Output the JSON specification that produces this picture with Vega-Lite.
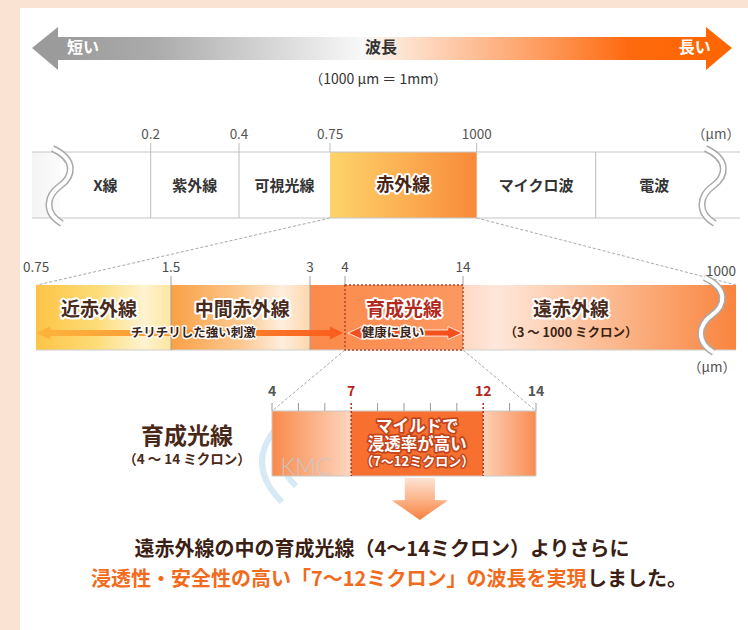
{
"$schema": "https://vega.github.io/schema/vega-lite/v6.json",
"width": 728, "height": 622,
"padding": {"left": 20, "top": 8, "right": 0, "bottom": 0},
"autosize": {"type": "none"},
"background": "#fbe3d3",
"config": {"view": {"fill": "#ffffff", "stroke": null}, "text": {"font": "Noto Sans CJK JP"}},
"encoding": {"y": {"field": "lv", "type": "quantitative", "axis": null, "scale": {"domain": [0,1,2,3,4,5,6,7,8,9,10,11,12,13,14,15,16,17,18,19,20,21,22,23,24,25,26,27,28,29,30,31], "range": [19,29,40,52,62,72,127,135,144,178,210,260,268,277,302,325,342,360,384,395,403,419,429,437,452,454,468,470,492,512,542,572], "nice": false, "zero": false}}},
"resolve": {"scale": {"x": "independent"}},
"layer": [
{"data": {"values": [{"a":0.4258,"a2":0.0234,"lv":10,"lv2":13},{"a":0.6273,"a2":0.9835,"lv":10,"lv2":13},{"a":0.4464,"a2":0.3462,"lv":16,"lv2":20},{"a":0.6085,"a2":0.7088,"lv":16,"lv2":20}]},
 "mark": {"type": "rule", "color": "#a8a8a8", "strokeWidth": 1, "strokeDash": [3,2]},
 "encoding": {"x": {"field":"a","type":"quantitative","axis":null,"scale":{"domain":[0,1],"nice":false,"zero":false}}, "x2": {"field":"a2"}, "y2": {"field":"lv2"}}},

{"data": {"values": [{"s":-0.31,"s2":0,"lv":8,"lv2":10}]},
 "mark": {"type": "rect", "fill": {"gradient":"linear","x1":0,"y1":0,"x2":1,"y2":0,"stops":[{"offset":0,"color":"#f4f4f4"},{"offset":1,"color":"#fbfbfb"}]}},
 "encoding": {"x": {"field":"s","type":"quantitative","axis":null,"scale":{"domain":[0,1,2,3,4,5,6],"range":[40,130.7,219,310,456.7,575.7,693],"nice":false,"zero":false}}, "x2": {"field":"s2"}, "y2": {"field":"lv2"}}},
{"data": {"values": [{"s":3,"s2":4,"lv":8,"lv2":10}]},
 "mark": {"type": "rect", "fill": {"gradient":"linear","x1":0,"y1":0,"x2":1,"y2":0,"stops":[{"offset":0,"color":"#fdd46a"},{"offset":0.5,"color":"#fbb052"},{"offset":1,"color":"#f8893a"}]}},
 "encoding": {"x": {"field":"s","type":"quantitative","axis":null,"scale":{"domain":[0,1,2,3,4,5,6],"range":[40,130.7,219,310,456.7,575.7,693],"nice":false,"zero":false}}, "x2": {"field":"s2"}, "y2": {"field":"lv2"}}},
{"data": {"values": [{"s":-0.31,"s2":6.23,"lv":8},{"s":-0.31,"s2":6.23,"lv":10}]},
 "mark": {"type": "rule", "color": "#c6c6c6", "strokeWidth": 1},
 "encoding": {"x": {"field":"s","type":"quantitative","axis":null,"scale":{"domain":[0,1,2,3,4,5,6],"range":[40,130.7,219,310,456.7,575.7,693],"nice":false,"zero":false}}, "x2": {"field":"s2"}}},
{"data": {"values": [{"s":1,"lv":7,"lv2":10},{"s":2,"lv":7,"lv2":10},{"s":3,"lv":7,"lv2":8},{"s":4,"lv":7,"lv2":8},{"s":5,"lv":8,"lv2":10}]},
 "mark": {"type": "rule", "color": "#bdbdbd", "strokeWidth": 1},
 "encoding": {"x": {"field":"s","type":"quantitative","axis":null,"scale":{"domain":[0,1,2,3,4,5,6],"range":[40,130.7,219,310,456.7,575.7,693],"nice":false,"zero":false}}, "y2": {"field":"lv2"}}},
{"data": {"values": [{"s":0,"lv":9},{"s":6,"lv":9}]},
 "mark": {"type": "point", "shape": "M-0.2,-1C0.45,-0.7,0.35,-0.25,0,0C-0.35,0.25,-0.45,0.7,0.05,1", "size": 5625, "filled": false, "color": "#a9a9a9", "stroke": "#a9a9a9", "strokeWidth": 7, "opacity": 1},
 "encoding": {"x": {"field":"s","type":"quantitative","axis":null,"scale":{"domain":[0,1,2,3,4,5,6],"range":[40,130.7,219,310,456.7,575.7,693],"nice":false,"zero":false}}}},
{"data": {"values": [{"s":0,"lv":9},{"s":6,"lv":9}]},
 "mark": {"type": "point", "shape": "M-0.2,-1C0.45,-0.7,0.35,-0.25,0,0C-0.35,0.25,-0.45,0.7,0.05,1", "size": 5625, "filled": false, "color": "#ffffff", "stroke": "#ffffff", "strokeWidth": 4, "opacity": 1},
 "encoding": {"x": {"field":"s","type":"quantitative","axis":null,"scale":{"domain":[0,1,2,3,4,5,6],"range":[40,130.7,219,310,456.7,575.7,693],"nice":false,"zero":false}}}},
{"data": {"values": [{"s":1,"t":"0.2","lv":6},{"s":2,"t":"0.4","lv":6},{"s":3,"t":"0.75","lv":6},{"s":4,"t":"1000","lv":6}]},
 "mark": {"type": "text", "fontSize": 13.5, "color": "#555555"},
 "encoding": {"x": {"field":"s","type":"quantitative","axis":null,"scale":{"domain":[0,1,2,3,4,5,6],"range":[40,130.7,219,310,456.7,575.7,693],"nice":false,"zero":false}}, "text": {"field":"t"}}},
{"data": {"values": [{"s":6.23,"t":"（μm）","lv":6}]},
 "mark": {"type": "text", "fontSize": 13.5, "color": "#555555", "align": "right"},
 "encoding": {"x": {"field":"s","type":"quantitative","axis":null,"scale":{"domain":[0,1,2,3,4,5,6],"range":[40,130.7,219,310,456.7,575.7,693],"nice":false,"zero":false}}, "text": {"field":"t"}}},
{"data": {"values": [{"s":0.5,"t":"X線","lv":9},{"s":1.5,"t":"紫外線","lv":9},{"s":2.5,"t":"可視光線","lv":9},{"s":4.5,"t":"マイクロ波","lv":9},{"s":5.5,"t":"電波","lv":9}]},
 "mark": {"type": "text", "fontSize": 15, "fontWeight": "bold", "color": "#333333"},
 "encoding": {"x": {"field":"s","type":"quantitative","axis":null,"scale":{"domain":[0,1,2,3,4,5,6],"range":[40,130.7,219,310,456.7,575.7,693],"nice":false,"zero":false}}, "text": {"field":"t"}}},
{"data": {"values": [{"s":3.5,"t":"赤外線","lv":9}]},
 "mark": {"type": "text", "fontSize": 18, "fontWeight": "bold", "color": "#ffffff", "stroke": "#ffffff", "strokeWidth": 4, "strokeJoin": "round"},
 "encoding": {"x": {"field":"s","type":"quantitative","axis":null,"scale":{"domain":[0,1,2,3,4,5,6],"range":[40,130.7,219,310,456.7,575.7,693],"nice":false,"zero":false}}, "text": {"field":"t"}}},
{"data": {"values": [{"s":3.5,"t":"赤外線","lv":9}]},
 "mark": {"type": "text", "fontSize": 18, "fontWeight": "bold", "color": "#4a2412"},
 "encoding": {"x": {"field":"s","type":"quantitative","axis":null,"scale":{"domain":[0,1,2,3,4,5,6],"range":[40,130.7,219,310,456.7,575.7,693],"nice":false,"zero":false}}, "text": {"field":"t"}}},

{"data": {"values": [{"w":0.75,"w2":1.5,"lv":13,"lv2":16}]},
 "mark": {"type": "rect", "fill": {"gradient":"linear","x1":0,"y1":0,"x2":1,"y2":0,"stops":[{"offset":0,"color":"#fcc445"},{"offset":0.45,"color":"#fddc78"},{"offset":0.8,"color":"#fef3d0"},{"offset":1,"color":"#fde6a0"}]}},
 "encoding": {"x": {"field":"w","type":"quantitative","axis":null,"scale":{"domain":[0.75,1.5,3,4,14,1000],"range":[16,151,290,325,443,716],"nice":false,"zero":false}}, "x2": {"field":"w2"}, "y2": {"field":"lv2"}}},
{"data": {"values": [{"w":1.5,"w2":3,"lv":13,"lv2":16}]},
 "mark": {"type": "rect", "fill": {"gradient":"linear","x1":0,"y1":0,"x2":1,"y2":0,"stops":[{"offset":0,"color":"#f9a045"},{"offset":0.5,"color":"#fcc890"},{"offset":0.8,"color":"#feeedd"},{"offset":1,"color":"#fdd7ad"}]}},
 "encoding": {"x": {"field":"w","type":"quantitative","axis":null,"scale":{"domain":[0.75,1.5,3,4,14,1000],"range":[16,151,290,325,443,716],"nice":false,"zero":false}}, "x2": {"field":"w2"}, "y2": {"field":"lv2"}}},
{"data": {"values": [{"w":3,"w2":14,"lv":13,"lv2":16}]},
 "mark": {"type": "rect", "fill": {"gradient":"linear","x1":0,"y1":0,"x2":1,"y2":0,"stops":[{"offset":0,"color":"#fb8a4a"},{"offset":1,"color":"#fb9862"}]}},
 "encoding": {"x": {"field":"w","type":"quantitative","axis":null,"scale":{"domain":[0.75,1.5,3,4,14,1000],"range":[16,151,290,325,443,716],"nice":false,"zero":false}}, "x2": {"field":"w2"}, "y2": {"field":"lv2"}}},
{"data": {"values": [{"w":14,"w2":1000,"lv":13,"lv2":16}]},
 "mark": {"type": "rect", "fill": {"gradient":"linear","x1":0,"y1":0,"x2":1,"y2":0,"stops":[{"offset":0,"color":"#fdd8c4"},{"offset":0.12,"color":"#fee7da"},{"offset":0.55,"color":"#fbb88e"},{"offset":1,"color":"#f9843e"}]}},
 "encoding": {"x": {"field":"w","type":"quantitative","axis":null,"scale":{"domain":[0.75,1.5,3,4,14,1000],"range":[16,151,290,325,443,716],"nice":false,"zero":false}}, "x2": {"field":"w2"}, "y2": {"field":"lv2"}}},
{"data": {"values": [{"w":0.75,"w2":1000,"lv":16}]},
 "mark": {"type": "rule", "color": "#cfcfcf", "strokeWidth": 1},
 "encoding": {"x": {"field":"w","type":"quantitative","axis":null,"scale":{"domain":[0.75,1.5,3,4,14,1000],"range":[16,151,290,325,443,716],"nice":false,"zero":false}}, "x2": {"field":"w2"}}},
{"data": {"values": [{"w":1.5,"lv":12,"lv2":16},{"w":3,"lv":12,"lv2":16},{"w":4,"lv":12,"lv2":13},{"w":14,"lv":12,"lv2":13}]},
 "mark": {"type": "rule", "color": "#a0a0a0", "strokeWidth": 1},
 "encoding": {"x": {"field":"w","type":"quantitative","axis":null,"scale":{"domain":[0.75,1.5,3,4,14,1000],"range":[16,151,290,325,443,716],"nice":false,"zero":false}}, "y2": {"field":"lv2"}}},
{"data": {"values": [{"w":4,"w2":14,"lv":13,"lv2":16}]},
 "mark": {"type": "rect", "fill": "transparent", "stroke": "#b4462a", "strokeWidth": 1.5, "strokeDash": [2,2]},
 "encoding": {"x": {"field":"w","type":"quantitative","axis":null,"scale":{"domain":[0.75,1.5,3,4,14,1000],"range":[16,151,290,325,443,716],"nice":false,"zero":false}}, "x2": {"field":"w2"}, "y2": {"field":"lv2"}}},
{"data": {"values": [{"w":913,"lv":14.22}]},
 "mark": {"type": "point", "shape": "M-0.2,-1C0.45,-0.7,0.35,-0.25,0,0C-0.35,0.25,-0.45,0.7,0.05,1", "size": 5625, "filled": false, "color": "#a9a9a9", "stroke": "#a9a9a9", "strokeWidth": 7, "opacity": 1},
 "encoding": {"x": {"field":"w","type":"quantitative","axis":null,"scale":{"domain":[0.75,1.5,3,4,14,1000],"range":[16,151,290,325,443,716],"nice":false,"zero":false}}}},
{"data": {"values": [{"w":913,"lv":14.22}]},
 "mark": {"type": "point", "shape": "M-0.2,-1C0.45,-0.7,0.35,-0.25,0,0C-0.35,0.25,-0.45,0.7,0.05,1", "size": 5625, "filled": false, "color": "#ffffff", "stroke": "#ffffff", "strokeWidth": 4, "opacity": 1},
 "encoding": {"x": {"field":"w","type":"quantitative","axis":null,"scale":{"domain":[0.75,1.5,3,4,14,1000],"range":[16,151,290,325,443,716],"nice":false,"zero":false}}}},
{"data": {"values": [{"w":0.75,"lv":15,"lv2":15},{"w":0.828,"lv":14.72,"lv2":15.38},{"w":0.832,"lv":14.87,"lv2":15.18},{"w":3.565,"lv":14.87,"lv2":15.18},{"w":3.571,"lv":14.72,"lv2":15.38},{"w":3.943,"lv":15,"lv2":15}]},
 "mark": {"type": "area", "orient": "vertical", "fill": {"gradient":"linear","x1":0,"y1":0,"x2":1,"y2":0,"stops":[{"offset":0,"color":"#fdb43c"},{"offset":0.5,"color":"#fb9434"},{"offset":1,"color":"#fa5a1c"}]}},
 "encoding": {"x": {"field":"w","type":"quantitative","axis":null,"scale":{"domain":[0.75,1.5,3,4,14,1000],"range":[16,151,290,325,443,716],"nice":false,"zero":false}}, "y2": {"field":"lv2"}}},
{"data": {"values": [{"w":4.25,"lv":15,"lv2":15},{"w":5.44,"lv":14.72,"lv2":15.38},{"w":5.47,"lv":14.87,"lv2":15.18},{"w":12.70,"lv":14.87,"lv2":15.18},{"w":12.73,"lv":14.72,"lv2":15.38},{"w":13.92,"lv":15,"lv2":15}]},
 "mark": {"type": "area", "orient": "vertical", "color": "#f4501e", "stroke": "#ffffff", "strokeWidth": 0.8},
 "encoding": {"x": {"field":"w","type":"quantitative","axis":null,"scale":{"domain":[0.75,1.5,3,4,14,1000],"range":[16,151,290,325,443,716],"nice":false,"zero":false}}, "y2": {"field":"lv2"}}},
{"data": {"values": [{"w":0.75,"t":"0.75","lv":11},{"w":1.5,"t":"1.5","lv":11},{"w":3,"t":"3","lv":11},{"w":4,"t":"4","lv":11},{"w":14,"t":"14","lv":11}]},
 "mark": {"type": "text", "fontSize": 13.5, "color": "#4d4d4d"},
 "encoding": {"x": {"field":"w","type":"quantitative","axis":null,"scale":{"domain":[0.75,1.5,3,4,14,1000],"range":[16,151,290,325,443,716],"nice":false,"zero":false}}, "text": {"field":"t"}}},
{"data": {"values": [{"w":1000,"t":"1000","lv":11.5},{"w":1000,"t":"（μm）","lv":17}]},
 "mark": {"type": "text", "fontSize": 13.5, "color": "#4d4d4d", "align": "right"},
 "encoding": {"x": {"field":"w","type":"quantitative","axis":null,"scale":{"domain":[0.75,1.5,3,4,14,1000],"range":[16,151,290,325,443,716],"nice":false,"zero":false}}, "text": {"field":"t"}}},
{"data": {"values": [{"w":1.1,"t":"近赤外線","lv":14},{"w":2.27,"t":"中間赤外線","lv":14},{"w":404,"t":"遠赤外線","lv":14},{"w":9,"t":"育成光線","lv":14}]},
 "mark": {"type": "text", "fontSize": 19, "fontWeight": "bold", "color": "#ffffff", "stroke": "#ffffff", "strokeWidth": 4, "strokeJoin": "round"},
 "encoding": {"x": {"field":"w","type":"quantitative","axis":null,"scale":{"domain":[0.75,1.5,3,4,14,1000],"range":[16,151,290,325,443,716],"nice":false,"zero":false}}, "text": {"field":"t"}}},
{"data": {"values": [{"w":1.1,"t":"近赤外線","lv":14},{"w":2.27,"t":"中間赤外線","lv":14},{"w":404,"t":"遠赤外線","lv":14}]},
 "mark": {"type": "text", "fontSize": 19, "fontWeight": "bold", "color": "#4a2a1a"},
 "encoding": {"x": {"field":"w","type":"quantitative","axis":null,"scale":{"domain":[0.75,1.5,3,4,14,1000],"range":[16,151,290,325,443,716],"nice":false,"zero":false}}, "text": {"field":"t"}}},
{"data": {"values": [{"w":9,"t":"育成光線","lv":14}]},
 "mark": {"type": "text", "fontSize": 19, "fontWeight": "bold", "color": "#b32a1c"},
 "encoding": {"x": {"field":"w","type":"quantitative","axis":null,"scale":{"domain":[0.75,1.5,3,4,14,1000],"range":[16,151,290,325,443,716],"nice":false,"zero":false}}, "text": {"field":"t"}}},
{"data": {"values": [{"w":1.74,"t":"チリチリした強い刺激","lv":15},{"w":8.07,"t":"健康に良い","lv":15}]},
 "mark": {"type": "text", "fontSize": 12.5, "fontWeight": "bold", "color": "#ffffff", "stroke": "#ffffff", "strokeWidth": 3, "strokeJoin": "round"},
 "encoding": {"x": {"field":"w","type":"quantitative","axis":null,"scale":{"domain":[0.75,1.5,3,4,14,1000],"range":[16,151,290,325,443,716],"nice":false,"zero":false}}, "text": {"field":"t"}}},
{"data": {"values": [{"w":1.74,"t":"チリチリした強い刺激","lv":15},{"w":8.07,"t":"健康に良い","lv":15},{"w":404,"t":"（3 ～ 1000 ミクロン）","lv":15}]},
 "mark": {"type": "text", "fontSize": 12.5, "fontWeight": "bold", "color": "#3a2214"},
 "encoding": {"x": {"field":"w","type":"quantitative","axis":null,"scale":{"domain":[0.75,1.5,3,4,14,1000],"range":[16,151,290,325,443,716],"nice":false,"zero":false}}, "text": {"field":"t"}}},

{"data": {"values": [{"d":4.68,"lv":25}]},
 "mark": {"type": "point", "shape": "M-0.2,-1Q-1.2,0,-0.2,1M0.15,-0.6Q-0.5,0,0.15,0.6", "size": 6400, "filled": false, "color": "#d2e8f4", "stroke": "#d2e8f4", "strokeWidth": 6, "opacity": 0.9},
 "encoding": {"x": {"field":"d","type":"quantitative","axis":null,"scale":{"domain":[4,14],"range":[252,516],"nice":false,"zero":false}}}},
{"data": {"values": [{"d":4,"d2":7,"lv":20,"lv2":26}]},
 "mark": {"type": "rect", "fill": {"gradient":"linear","x1":0,"y1":0,"x2":1,"y2":0,"stops":[{"offset":0,"color":"#f98a4b"},{"offset":1,"color":"#fdd6bf"}]}},
 "encoding": {"x": {"field":"d","type":"quantitative","axis":null,"scale":{"domain":[4,14],"range":[252,516],"nice":false,"zero":false}}, "x2": {"field":"d2"}, "y2": {"field":"lv2"}}},
{"data": {"values": [{"d":7,"d2":12,"lv":20,"lv2":26}]},
 "mark": {"type": "rect", "color": "#f7702f"},
 "encoding": {"x": {"field":"d","type":"quantitative","axis":null,"scale":{"domain":[4,14],"range":[252,516],"nice":false,"zero":false}}, "x2": {"field":"d2"}, "y2": {"field":"lv2"}}},
{"data": {"values": [{"d":12,"d2":14,"lv":20,"lv2":26}]},
 "mark": {"type": "rect", "fill": {"gradient":"linear","x1":0,"y1":0,"x2":1,"y2":0,"stops":[{"offset":0,"color":"#fcd0b6"},{"offset":1,"color":"#f98c52"}]}},
 "encoding": {"x": {"field":"d","type":"quantitative","axis":null,"scale":{"domain":[4,14],"range":[252,516],"nice":false,"zero":false}}, "x2": {"field":"d2"}, "y2": {"field":"lv2"}}},
{"data": {"values": [{"d":4,"d2":14,"lv":20,"lv2":26}]},
 "mark": {"type": "rect", "fill": "transparent", "stroke": "#c8c8c8", "strokeWidth": 1},
 "encoding": {"x": {"field":"d","type":"quantitative","axis":null,"scale":{"domain":[4,14],"range":[252,516],"nice":false,"zero":false}}, "x2": {"field":"d2"}, "y2": {"field":"lv2"}}},
{"data": {"values": [{"d":4,"lv":19,"lv2":20},{"d":5,"lv":19,"lv2":20},{"d":6,"lv":19,"lv2":20},{"d":8,"lv":19,"lv2":20},{"d":9,"lv":19,"lv2":20},{"d":10,"lv":19,"lv2":20},{"d":11,"lv":19,"lv2":20},{"d":13,"lv":19,"lv2":20},{"d":14,"lv":19,"lv2":20}]},
 "mark": {"type": "rule", "color": "#9a9a9a", "strokeWidth": 1},
 "encoding": {"x": {"field":"d","type":"quantitative","axis":null,"scale":{"domain":[4,14],"range":[252,516],"nice":false,"zero":false}}, "y2": {"field":"lv2"}}},
{"data": {"values": [{"d":7,"lv":19,"lv2":26},{"d":12,"lv":19,"lv2":26}]},
 "mark": {"type": "rule", "color": "#b5301c", "strokeWidth": 1.5, "strokeDash": [2,2]},
 "encoding": {"x": {"field":"d","type":"quantitative","axis":null,"scale":{"domain":[4,14],"range":[252,516],"nice":false,"zero":false}}, "y2": {"field":"lv2"}}},
{"data": {"values": [{"d":4,"t":"4","lv":18},{"d":14,"t":"14","lv":18}]},
 "mark": {"type": "text", "fontSize": 14, "fontWeight": "bold", "color": "#555555"},
 "encoding": {"x": {"field":"d","type":"quantitative","axis":null,"scale":{"domain":[4,14],"range":[252,516],"nice":false,"zero":false}}, "text": {"field":"t"}}},
{"data": {"values": [{"d":7,"t":"7","lv":18},{"d":12,"t":"12","lv":18}]},
 "mark": {"type": "text", "fontSize": 14, "fontWeight": "bold", "color": "#b0281a"},
 "encoding": {"x": {"field":"d","type":"quantitative","axis":null,"scale":{"domain":[4,14],"range":[252,516],"nice":false,"zero":false}}, "text": {"field":"t"}}},
{"data": {"values": [{"d":9.5,"t":"マイルドで","lv":21},{"d":9.5,"t":"浸透率が高い","lv":23}]},
 "mark": {"type": "text", "fontSize": 16.5, "fontWeight": "bold", "color": "#c3441c", "stroke": "#c3441c", "strokeWidth": 3.5, "strokeJoin": "round"},
 "encoding": {"x": {"field":"d","type":"quantitative","axis":null,"scale":{"domain":[4,14],"range":[252,516],"nice":false,"zero":false}}, "text": {"field":"t"}}},
{"data": {"values": [{"d":9.5,"t":"マイルドで","lv":21},{"d":9.5,"t":"浸透率が高い","lv":23}]},
 "mark": {"type": "text", "fontSize": 16.5, "fontWeight": "bold", "color": "#ffffff"},
 "encoding": {"x": {"field":"d","type":"quantitative","axis":null,"scale":{"domain":[4,14],"range":[252,516],"nice":false,"zero":false}}, "text": {"field":"t"}}},
{"data": {"values": [{"d":9.5,"t":"（7～12ミクロン）","lv":25}]},
 "mark": {"type": "text", "fontSize": 13, "fontWeight": "bold", "color": "#c3441c", "stroke": "#c3441c", "strokeWidth": 3, "strokeJoin": "round"},
 "encoding": {"x": {"field":"d","type":"quantitative","axis":null,"scale":{"domain":[4,14],"range":[252,516],"nice":false,"zero":false}}, "text": {"field":"t"}}},
{"data": {"values": [{"d":9.5,"t":"（7～12ミクロン）","lv":25}]},
 "mark": {"type": "text", "fontSize": 13, "fontWeight": "bold", "color": "#ffffff"},
 "encoding": {"x": {"field":"d","type":"quantitative","axis":null,"scale":{"domain":[4,14],"range":[252,516],"nice":false,"zero":false}}, "text": {"field":"t"}}},
{"data": {"values": [{"d":5.29,"t":"KMC","lv":25.45}]},
 "mark": {"type": "text", "fontSize": 23, "fontWeight": 300, "font": "Lato", "color": "#c4cad2", "opacity": 0.85},
 "encoding": {"x": {"field":"d","type":"quantitative","axis":null,"scale":{"domain":[4,14],"range":[252,516],"nice":false,"zero":false}}, "text": {"field":"t"}}},
{"data": {"values": [{"lv":27,"d":9.03,"d2":10.17},{"lv":28,"d":9.03,"d2":10.17},{"lv":28.02,"d":8.54,"d2":10.66},{"lv":29,"d":9.6,"d2":9.6}]},
 "mark": {"type": "area", "orient": "horizontal", "fill": {"gradient":"linear","x1":0,"y1":0,"x2":0,"y2":1,"stops":[{"offset":0,"color":"#fde3d2"},{"offset":0.5,"color":"#fbb48a"},{"offset":1,"color":"#f8803e"}]}},
 "encoding": {"x": {"field":"d","type":"quantitative","axis":null,"stack":null,"scale":{"domain":[4,14],"range":[252,516],"nice":false,"zero":false}}, "x2": {"field":"d2"}}},

{"data": {"values": [{"a":0.0522,"a2":0.9423,"lv":1,"lv2":3}]},
 "mark": {"type": "rect", "fill": {"gradient":"linear","x1":0,"y1":0,"x2":1,"y2":0,"stops":[{"offset":0,"color":"#9b9b9b"},{"offset":0.15,"color":"#ababab"},{"offset":0.47,"color":"#f8f8f8"},{"offset":0.53,"color":"#fde4d3"},{"offset":0.75,"color":"#fd9a5c"},{"offset":0.88,"color":"#ff6a10"},{"offset":1,"color":"#ff6600"}]}},
 "encoding": {"x": {"field":"a","type":"quantitative","axis":null,"scale":{"domain":[0,1],"nice":false,"zero":false}}, "x2": {"field":"a2"}, "y2": {"field":"lv2"}}},
{"data": {"values": [{"part":"short","a":0.0165,"lv":2,"lv2":2},{"part":"short","a":0.0522,"lv":0,"lv2":4},{"part":"long","a":0.9423,"lv":0,"lv2":4},{"part":"long","a":0.978,"lv":2,"lv2":2}]},
 "mark": {"type": "area", "orient": "vertical"},
 "encoding": {"x": {"field":"a","type":"quantitative","axis":null,"scale":{"domain":[0,1],"nice":false,"zero":false}}, "y2": {"field":"lv2"}, "color": {"field":"part","type":"nominal","legend":null,"scale":{"domain":["short","long"],"range":["#9b9b9b","#ff6600"]}}}},
{"data": {"values": [{"a":0.0865,"t":"短い","lv":2},{"a":0.927,"t":"長い","lv":2}]},
 "mark": {"type": "text", "fontSize": 16, "fontWeight": "bold", "color": "#ffffff"},
 "encoding": {"x": {"field":"a","type":"quantitative","axis":null,"scale":{"domain":[0,1],"nice":false,"zero":false}}, "text": {"field":"t"}}},
{"data": {"values": [{"a":0.496,"t":"波長","lv":2}]},
 "mark": {"type": "text", "fontSize": 16, "fontWeight": "bold", "color": "#333333"},
 "encoding": {"x": {"field":"a","type":"quantitative","axis":null,"scale":{"domain":[0,1],"nice":false,"zero":false}}, "text": {"field":"t"}}},
{"data": {"values": [{"a":0.492,"t":"（1000 μm ＝ 1mm）","lv":5}]},
 "mark": {"type": "text", "fontSize": 14, "color": "#333333"},
 "encoding": {"x": {"field":"a","type":"quantitative","axis":null,"scale":{"domain":[0,1],"nice":false,"zero":false}}, "text": {"field":"t"}}},
{"data": {"values": [{"a":0.2294,"t":"育成光線","lv":22}]},
 "mark": {"type": "text", "fontSize": 23, "fontWeight": "bold", "color": "#4a2818"},
 "encoding": {"x": {"field":"a","type":"quantitative","axis":null,"scale":{"domain":[0,1],"nice":false,"zero":false}}, "text": {"field":"t"}}},
{"data": {"values": [{"a":0.2294,"t":"（4 ～ 14 ミクロン）","lv":24}]},
 "mark": {"type": "text", "fontSize": 13.5, "fontWeight": "bold", "color": "#4a2818"},
 "encoding": {"x": {"field":"a","type":"quantitative","axis":null,"scale":{"domain":[0,1],"nice":false,"zero":false}}, "text": {"field":"t"}}},
{"data": {"values": [{"a":0.4973,"t":"遠赤外線の中の育成光線（4～14ミクロン）よりさらに","lv":30}]},
 "mark": {"type": "text", "fontSize": 20, "fontWeight": "bold", "color": "#3c1f14"},
 "encoding": {"x": {"field":"a","type":"quantitative","axis":null,"scale":{"domain":[0,1],"nice":false,"zero":false}}, "text": {"field":"t"}}},
{"data": {"values": [{"a":0.778,"t":"浸透性・安全性の高い「7～12ミクロン」の波長を実現","lv":31}]},
 "mark": {"type": "text", "fontSize": 20, "fontWeight": "bold", "color": "#f26b1d", "align": "right"},
 "encoding": {"x": {"field":"a","type":"quantitative","axis":null,"scale":{"domain":[0,1],"nice":false,"zero":false}}, "text": {"field":"t"}}},
{"data": {"values": [{"a":0.779,"t":"しました。","lv":31}]},
 "mark": {"type": "text", "fontSize": 20, "fontWeight": "bold", "color": "#3c1f14", "align": "left"},
 "encoding": {"x": {"field":"a","type":"quantitative","axis":null,"scale":{"domain":[0,1],"nice":false,"zero":false}}, "text": {"field":"t"}}}
]
}
